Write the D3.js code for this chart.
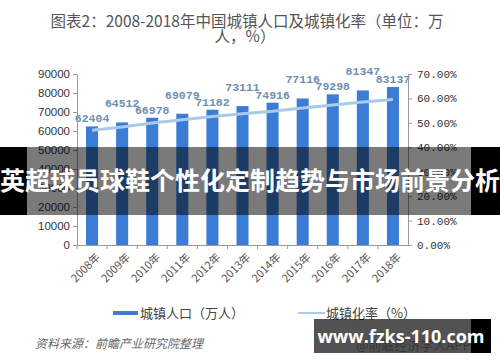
<!DOCTYPE html>
<html>
<head>
<meta charset="utf-8">
<script src="https://cdn.jsdelivr.net/npm/d3@7"></script>
<style>
  body { margin: 0; background: #fff; }
  svg { display: block; }
</style>
</head>
<body>
<svg id="chart"></svg>
<script>
const width = 500;
const height = 362;

const years = ["2008年", "2009年", "2010年", "2011年", "2012年", "2013年", "2014年", "2015年", "2016年", "2017年", "2018年"];
const urbanPop = [62404, 64512, 66978, 69079, 71182, 73111, 74916, 77116, 79298, 81347, 83137];
const urbanRate = [46.99, 48.34, 49.95, 51.27, 52.57, 53.73, 54.77, 56.10, 57.35, 58.52, 59.58];
const leftTicks = [0, 10000, 20000, 30000, 40000, 50000, 60000, 70000, 80000, 90000];
const rightTicks = [0, 10, 20, 30, 40, 50, 60, 70];

const cjk = "'Noto Sans CJK SC', 'Noto Sans', sans-serif";

const svg = d3.select("#chart")
    .attr("width", width)
    .attr("height", height);

// title
const title = svg.append("g")
    .attr("font-family", cjk)
    .attr("font-size", 15.5)
    .attr("fill", "#555")
    .attr("text-anchor", "middle");
title.append("text").attr("x", 247).attr("y", 27).text("图表2：2008-2018年中国城镇人口及城镇化率（单位：万");
title.append("text").attr("x", 245).attr("y", 42).text("人，%）");

const x = d3.scaleBand()
    .domain(years)
    .range([77, 408])
    .paddingInner(0.6)
    .paddingOuter(0.3);

const yLeft = d3.scaleLinear().domain([0, 90000]).range([245, 74]);
const yRight = d3.scaleLinear().domain([0, 70]).range([245, 74]);

// bars
svg.append("g")
    .selectAll("rect")
    .data(urbanPop)
    .join("rect")
    .attr("x", (d, i) => x(years[i]))
    .attr("y", d => yLeft(d))
    .attr("width", x.bandwidth())
    .attr("height", d => yLeft(0) - yLeft(d))
    .attr("fill", "#3b7dd6");

// rate line
const line = d3.line()
    .x((d, i) => x(years[i]) + x.bandwidth() / 2)
    .y(d => yRight(d));

svg.append("path")
    .datum(urbanRate)
    .attr("d", line)
    .attr("fill", "none")
    .attr("stroke", "#abcaea")
    .attr("stroke-width", 3);

// value labels, staggered like the original so neighbours don't collide
svg.append("g")
    .attr("font-family", "'Liberation Mono', monospace")
    .attr("font-weight", "bold")
    .attr("font-size", 11.5)
    .attr("fill", "#6d8fb1")
    .attr("text-anchor", "middle")
    .selectAll("text")
    .data(urbanPop)
    .join("text")
    .attr("x", (d, i) => x(years[i]) + x.bandwidth() / 2)
    .attr("y", (d, i) => yLeft(d) - (i % 2 ? 15 : 4))
    .text(d => d);

// axes
const axisStyle = g => {
    g.selectAll(".domain").attr("stroke", "#999");
    g.selectAll(".tick line").attr("stroke", "#999");
    g.selectAll("text").attr("fill", "#333");
};

svg.append("g")
    .attr("transform", "translate(77,0)")
    .call(d3.axisLeft(yLeft).tickValues(leftTicks).tickSize(4).tickSizeOuter(0).tickFormat(d3.format("d")))
    .call(axisStyle)
    .call(g => g.selectAll("text").attr("font-family", "'Liberation Sans', Arial, sans-serif").attr("font-size", 11.5));

svg.append("g")
    .attr("transform", "translate(408,0)")
    .call(d3.axisRight(yRight).tickValues(rightTicks).tickSize(4).tickSizeOuter(0).tickFormat(d => d.toFixed(2) + "%"))
    .call(axisStyle)
    .call(g => g.selectAll("text").attr("font-family", "'Liberation Mono', monospace").attr("font-size", 11).attr("dx", 2));

const xAxis = svg.append("g")
    .attr("transform", "translate(0,245)")
    .call(d3.axisBottom(x).tickSize(0).tickSizeOuter(0))
    .call(axisStyle);
xAxis.selectAll(".tick line").remove();
xAxis.selectAll("text")
    .attr("font-family", cjk)
    .attr("font-size", 11)
    .attr("fill", "#555")
    .attr("text-anchor", "end")
    .attr("transform", "translate(4,8) rotate(-45)")
    .attr("dy", "0.35em");
// tick marks at band boundaries
xAxis.selectAll(".sep")
    .data(years)
    .join("line")
    .attr("class", "sep")
    .attr("x1", d => x(d) - x.step() * x.paddingInner() / 2)
    .attr("x2", d => x(d) - x.step() * x.paddingInner() / 2)
    .attr("y1", 0)
    .attr("y2", 4)
    .attr("stroke", "#999");

// legend
const legend = svg.append("g")
    .attr("font-family", cjk)
    .attr("font-size", 13)
    .attr("fill", "#444");
legend.append("rect").attr("x", 113).attr("y", 311).attr("width", 25).attr("height", 4).attr("fill", "#3b7dd6");
legend.append("text").attr("x", 140).attr("y", 318).text("城镇人口（万人）");
legend.append("line").attr("x1", 298).attr("x2", 325).attr("y1", 313).attr("y2", 313).attr("stroke", "#abcaea").attr("stroke-width", 2);
legend.append("text").attr("x", 326).attr("y", 318).text("城镇化率（%）");

// source
svg.append("text")
    .attr("x", 35)
    .attr("y", 348)
    .attr("font-family", cjk)
    .attr("font-size", 12)
    .attr("font-style", "italic")
    .attr("fill", "#666")
    .text("资料来源：前瞻产业研究院整理");

// watermark under the url box
svg.append("text")
    .attr("x", 356)
    .attr("y", 350)
    .attr("font-family", cjk)
    .attr("font-size", 13)
    .attr("fill", "#aaa")
    .text("@前瞻经济学人APP");

// overlay banner
svg.append("rect").attr("x", 0).attr("y", 147).attr("width", 500).attr("height", 68).attr("fill", "rgba(0,0,0,0.52)");
svg.append("rect").attr("x", 0).attr("y", 147).attr("width", 27).attr("height", 68).attr("fill", "#000");
svg.append("rect").attr("x", 471).attr("y", 147).attr("width", 29).attr("height", 68).attr("fill", "#000");
svg.append("text")
    .attr("x", 250)
    .attr("y", 190)
    .attr("text-anchor", "middle")
    .attr("font-family", cjk)
    .attr("font-weight", "bold")
    .attr("font-size", 25)
    .attr("fill", "#fff")
    .text("英超球员球鞋个性化定制趋势与市场前景分析");

// url box
svg.append("rect").attr("x", 314).attr("y", 319).attr("width", 157).attr("height", 34).attr("fill", "rgba(0,0,0,0.68)");
svg.append("rect").attr("x", 471).attr("y", 319).attr("width", 20).attr("height", 34).attr("fill", "#000");
svg.append("text")
    .attr("x", 401)
    .attr("y", 343)
    .attr("text-anchor", "middle")
    .attr("font-family", "'Open Sans', 'DejaVu Sans', sans-serif")
    .attr("font-weight", "bold")
    .attr("font-size", 18)
    .attr("fill", "#fff")
    .text("www.fzks-110.com");
</script>
</body>
</html>
